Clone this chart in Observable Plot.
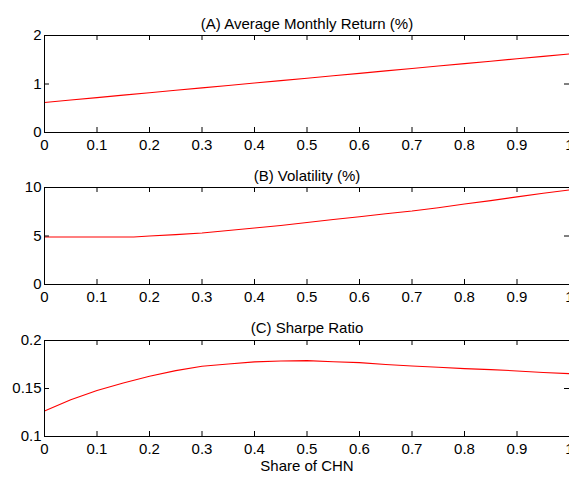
<!DOCTYPE html>
<html>
<head>
<meta charset="utf-8">
<script src="https://cdn.jsdelivr.net/npm/d3@7"></script>
<script src="https://cdn.jsdelivr.net/npm/@observablehq/plot@0.6"></script>
<style>
  html, body { margin: 0; padding: 0; background: white; overflow: hidden; }
  #chart { width: 569px; height: 478px; overflow: hidden; }
</style>
</head>
<body>
<div id="chart"></div>
<script>
// Share of CHN (x values)
const shares = [0, 0.05, 0.1, 0.15, 0.2, 0.25, 0.3, 0.35, 0.4, 0.45, 0.5, 0.55, 0.6, 0.65, 0.7, 0.75, 0.8, 0.85, 0.9, 0.95, 1];
// (A) Average Monthly Return (%)
const avgReturn = [0.62, 0.67, 0.72, 0.77, 0.82, 0.87, 0.92, 0.97, 1.02, 1.07, 1.12, 1.17, 1.22, 1.27, 1.32, 1.37, 1.42, 1.47, 1.52, 1.57, 1.62];
// (B) Volatility (%)
const volShares = [0, 0.05, 0.1, 0.15, 0.17, 0.2, 0.25, 0.3, 0.35, 0.4, 0.45, 0.5, 0.55, 0.6, 0.65, 0.7, 0.75, 0.8, 0.85, 0.9, 0.95, 1];
const volatility = [4.9, 4.9, 4.9, 4.9, 4.9, 5.0, 5.14, 5.31, 5.56, 5.83, 6.08, 6.39, 6.7, 6.98, 7.29, 7.57, 7.92, 8.3, 8.65, 9.03, 9.4, 9.75];
// (C) Sharpe Ratio
const sharpe = [0.1265, 0.1383, 0.148, 0.1557, 0.1627, 0.1686, 0.1732, 0.1756, 0.1777, 0.1787, 0.179, 0.1779, 0.177, 0.175, 0.1735, 0.1721, 0.1707, 0.1697, 0.1683, 0.1666, 0.1655];

// Tick labels
const xTicks = [0, 0.1, 0.2, 0.3, 0.4, 0.5, 0.6, 0.7, 0.8, 0.9, 1];
const returnTicks = [0, 1, 2];
const volTicks = [0, 5, 10];
const sharpeTicks = [0.1, 0.15, 0.2];

const titles = ["(A) Average Monthly Return (%)", "(B) Volatility (%)", "(C) Sharpe Ratio"];
const xLabel = "Share of CHN";

const W = 569, ML = 44, MR = 0;
const FONT = "'Liberation Sans', Arial, Helvetica, sans-serif";

function panel({title, xs, ys, yDomain, yTicks, height, marginTop, marginBottom, titleDy, xlabel}) {
  const frameW = W - ML - MR;
  const frameH = height - marginTop - marginBottom;
  const data = xs.map((x, i) => ({x, y: ys[i]}));
  const marks = [
    Plot.line(data, {x: "x", y: "y", stroke: "#ff0000", strokeWidth: 1.1}),
    Plot.frame({stroke: "black", strokeWidth: 1}),
    // inward ticks: bottom, top
    Plot.ruleX(xTicks, {x: d => d, insetTop: frameH - 5, stroke: "black"}),
    Plot.ruleX(xTicks, {x: d => d, insetBottom: frameH - 5, stroke: "black"}),
    // inward ticks: left, right
    Plot.ruleY(yTicks, {y: d => d, insetRight: frameW - 5, stroke: "black"}),
    Plot.ruleY(yTicks, {y: d => d, insetLeft: frameW - 5, stroke: "black"}),
    Plot.axisX(xTicks, {tickSize: 0, tickPadding: 7, tickFormat: d => String(d), label: null, fontSize: 15}),
    Plot.axisY(yTicks, {tickSize: 0, tickPadding: 3, tickFormat: d => String(d), label: null, fontSize: 15}),
    Plot.text([title], {frameAnchor: "top", dy: titleDy, text: d => d, fontSize: 15, fill: "black"})
  ];
  if (xlabel) {
    marks.push(Plot.text([xlabel], {frameAnchor: "bottom", dy: 34, text: d => d, fontSize: 15, fill: "black"}));
  }
  return Plot.plot({
    width: W, height, marginLeft: ML, marginRight: MR, marginTop, marginBottom,
    style: {fontFamily: FONT, fontSize: "15px", color: "black", background: "white", overflow: "hidden"},
    x: {domain: [0, 1]},
    y: {domain: yDomain},
    marks
  });
}

const chart = document.getElementById("chart");
chart.append(panel({title: titles[0], xs: shares, ys: avgReturn, yDomain: [0, 2], yTicks: returnTicks,
  height: 152, marginTop: 35, marginBottom: 20, titleDy: -17.5}));
chart.append(panel({title: titles[1], xs: volShares, ys: volatility, yDomain: [0, 10], yTicks: volTicks,
  height: 152, marginTop: 35, marginBottom: 20, titleDy: -17}));
chart.append(panel({title: titles[2], xs: shares, ys: sharpe, yDomain: [0.1, 0.2], yTicks: sharpeTicks,
  height: 174, marginTop: 36, marginBottom: 42, titleDy: -18.3, xlabel: xLabel}));
</script>
</body>
</html>
